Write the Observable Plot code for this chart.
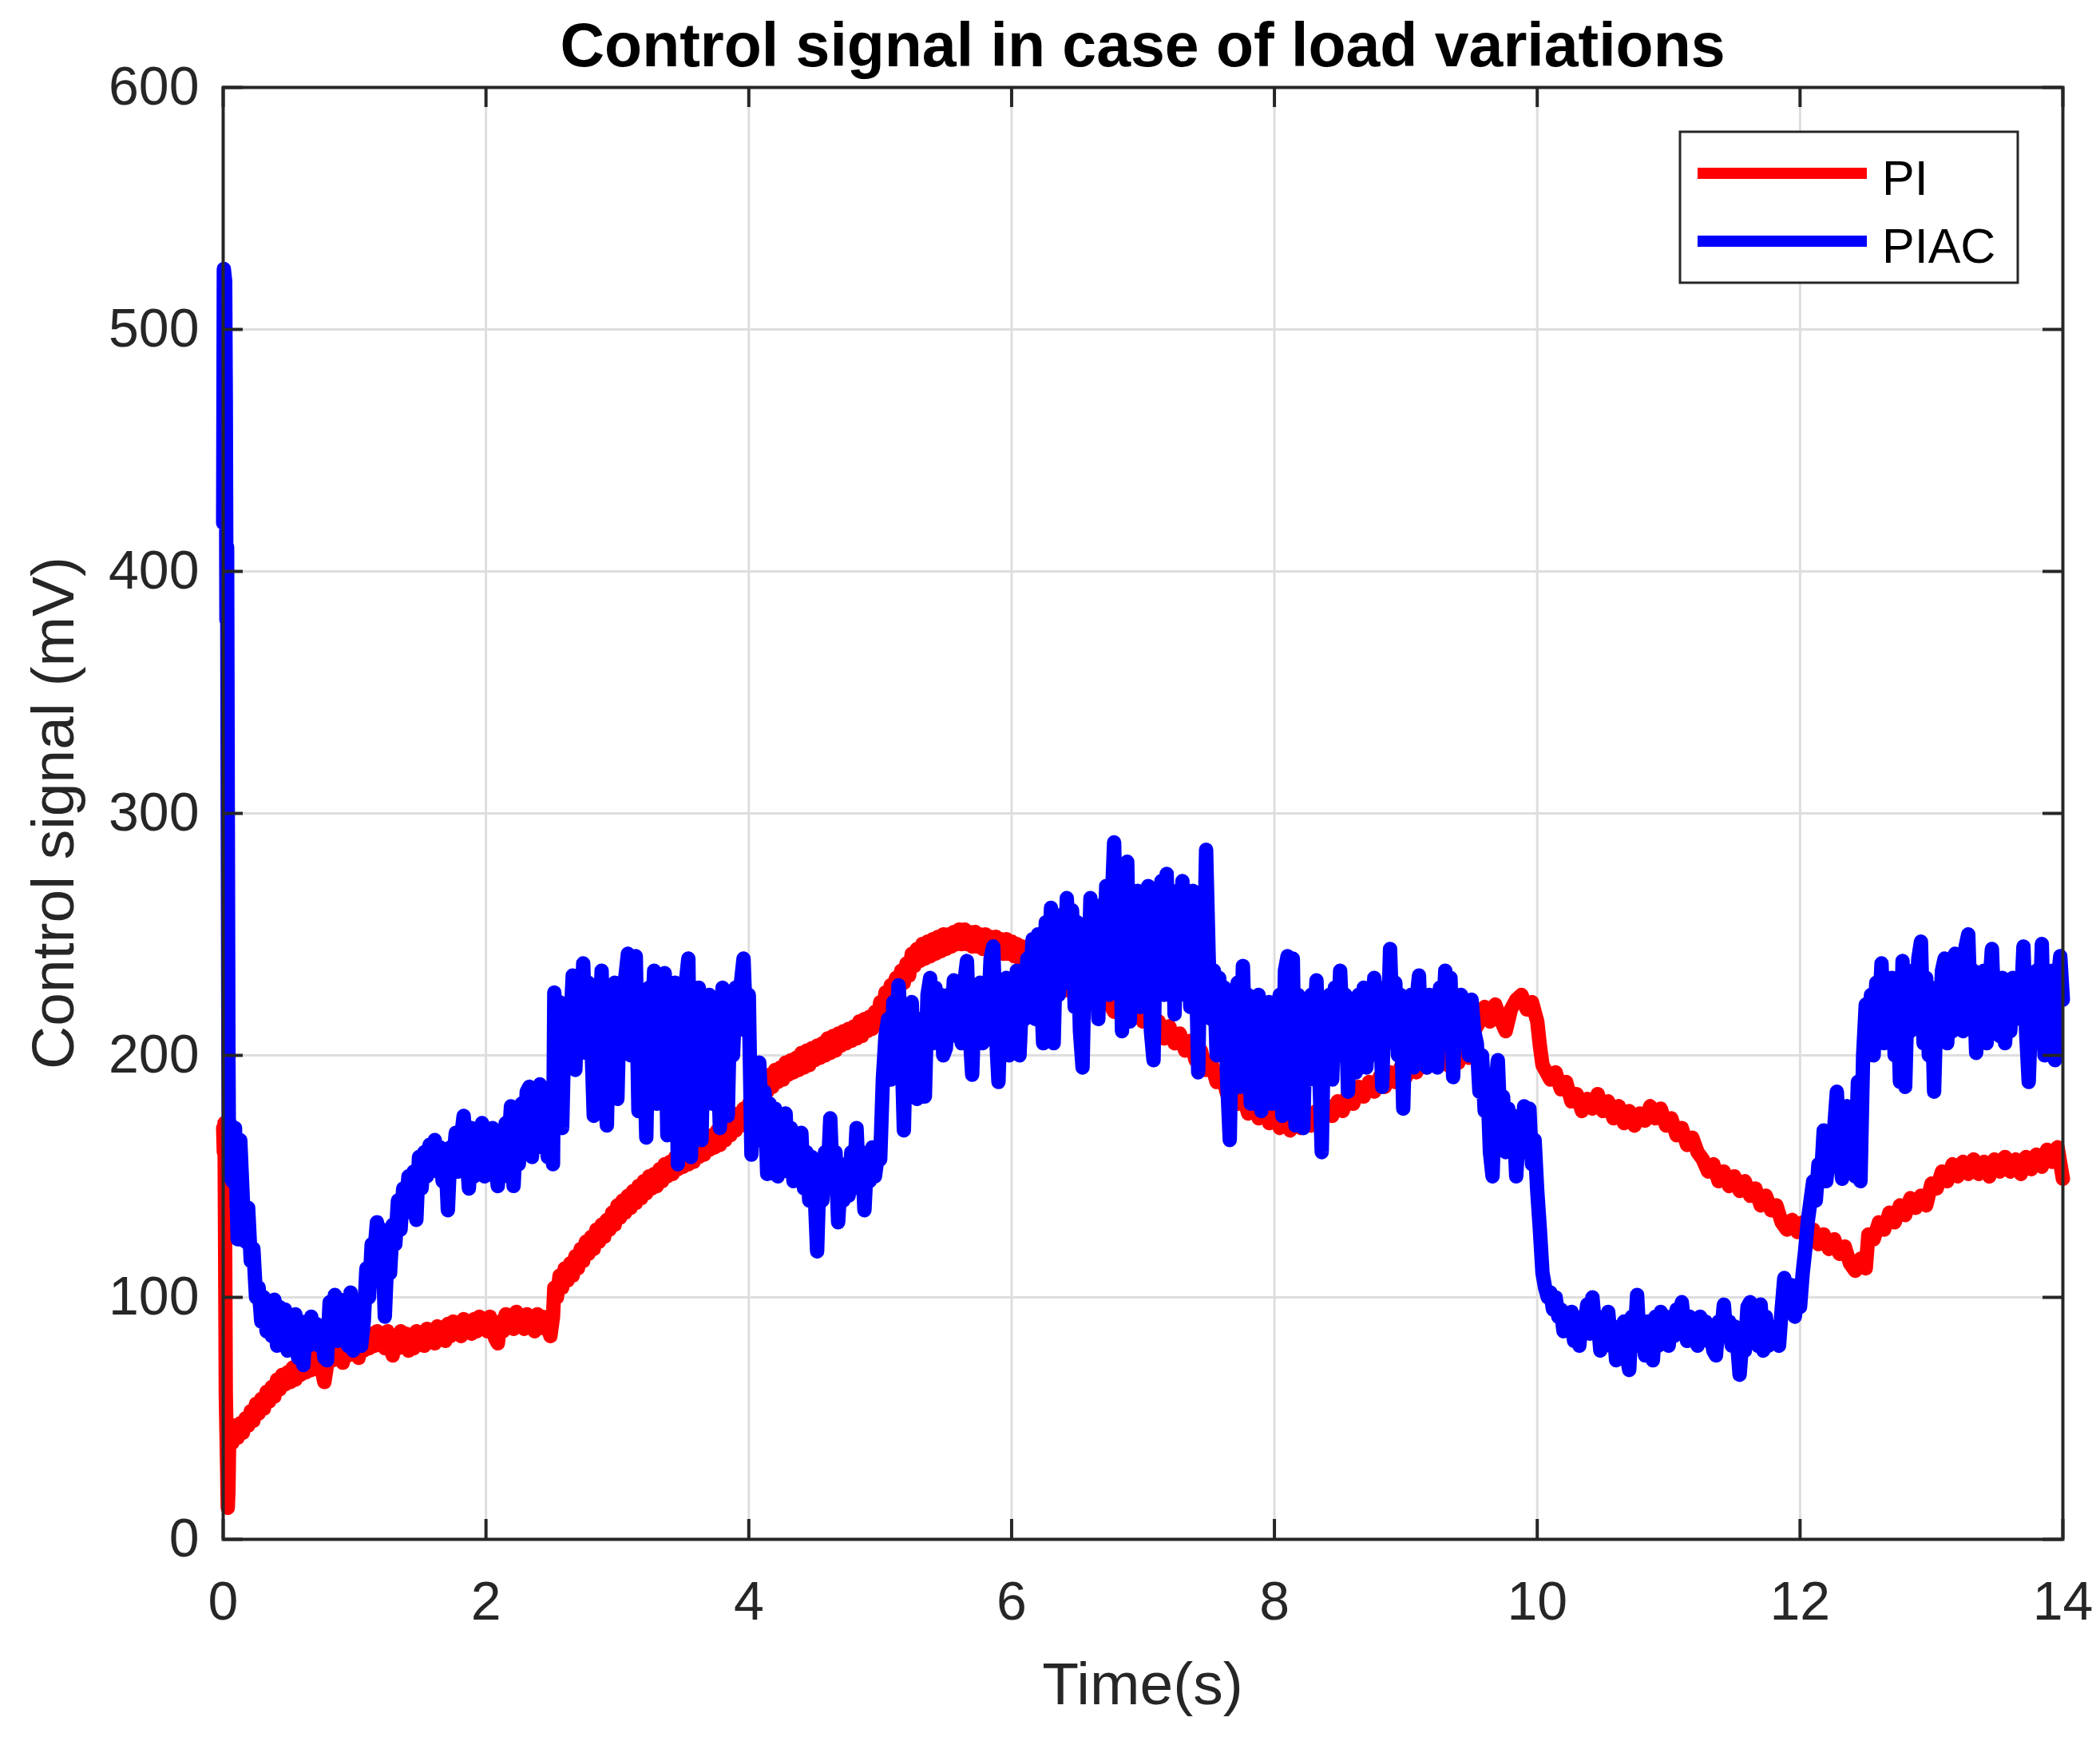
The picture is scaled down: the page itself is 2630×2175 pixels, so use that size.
<!DOCTYPE html>
<html><head><meta charset="utf-8">
<script src="https://cdn.jsdelivr.net/npm/d3@7"></script>
<script src="https://cdn.jsdelivr.net/npm/@observablehq/plot@0.6"></script>
<style>body{margin:0;background:#fff;} #chart{position:relative;width:2630px;height:2175px;}</style>
</head><body><div id="chart"></div>
<script>
const titleText = "Control signal in case of load variations";
const xLabel = "Time(s)";
const yLabel = "Control signal (mV)";
const seriesNames = ["PI", "PIAC"];
const seriesColors = ["#ff0000", "#0000ff"];
const xTicks = [0, 2, 4, 6, 8, 10, 12, 14];
const yTicks = [0, 100, 200, 300, 400, 500, 600];

// PI controller signal [time s, mV]
const piData = [
[0.00,170],[0.005,160],[0.01,172],[0.015,120],[0.02,60],[0.03,30],[0.035,13],[0.04,20],[0.045,40],[0.05,45],
[0.07,40],[0.09,47],[0.11,42],[0.13,48],[0.15,44],[0.17,50],[0.19,47],[0.21,53],[0.23,49],[0.25,56],
[0.27,52],[0.29,58],[0.31,54],[0.33,61],[0.35,57],[0.37,63],[0.39,59],[0.41,66],[0.43,62],[0.45,68],
[0.47,64],[0.49,69],[0.51,65],[0.53,71],[0.55,66],[0.57,72],[0.59,68],[0.61,73],[0.63,69],[0.65,75],
[0.67,70],[0.69,76],[0.71,72],[0.73,77],[0.75,70],[0.77,65],[0.79,72],[0.81,78],[0.83,74],[0.85,80],
[0.87,75],[0.89,81],[0.91,73],[0.93,79],[0.95,76],[0.97,82],[0.99,77],[1.01,80],[1.03,75],[1.05,82],
[1.07,78],[1.09,84],[1.11,79],[1.13,85],[1.15,80],[1.17,86],[1.19,81],[1.21,85],[1.23,79],[1.25,86],
[1.27,80],[1.29,76],[1.31,84],[1.33,79],[1.35,86],[1.37,81],[1.39,85],[1.41,78],[1.43,84],[1.45,79],
[1.47,86],[1.49,81],[1.51,85],[1.53,80],[1.55,87],[1.57,82],[1.59,86],[1.61,81],[1.63,88],[1.65,83],
[1.67,87],[1.69,82],[1.71,89],[1.73,84],[1.75,90],[1.77,85],[1.79,89],[1.81,84],[1.83,91],[1.85,86],
[1.87,90],[1.89,85],[1.91,91],[1.93,86],[1.95,92],[1.97,87],[1.99,91],[2.01,86],[2.03,92],[2.05,87],
[2.07,83],[2.09,81],[2.11,90],[2.13,86],[2.15,93],[2.17,88],[2.19,92],[2.21,87],[2.23,94],[2.25,88],
[2.27,92],[2.29,87],[2.31,93],[2.33,88],[2.35,91],[2.37,86],[2.39,93],[2.41,88],[2.43,92],[2.45,87],
[2.47,89],[2.49,84],[2.51,92],[2.52,104],[2.54,100],[2.56,109],[2.58,104],[2.60,112],[2.62,107],[2.64,114],
[2.66,109],[2.68,117],[2.70,112],[2.72,120],[2.74,115],[2.76,123],[2.78,118],[2.80,125],[2.82,120],[2.84,128],
[2.86,123],[2.88,130],[2.90,125],[2.92,132],[2.94,128],[2.96,135],[2.98,130],[3.00,138],[3.02,133],[3.04,140],
[3.06,135],[3.08,142],[3.10,137],[3.12,144],[3.14,139],[3.16,146],[3.18,141],[3.20,148],[3.22,143],[3.24,150],
[3.26,145],[3.28,151],[3.30,146],[3.32,153],[3.34,148],[3.36,155],[3.38,150],[3.40,156],[3.42,151],[3.44,158],
[3.46,153],[3.48,159],[3.50,154],[3.52,160],[3.54,155],[3.56,161],[3.58,156],[3.60,163],[3.62,158],[3.64,164],
[3.66,159],[3.68,166],[3.70,161],[3.72,167],[3.74,162],[3.76,169],[3.78,163],[3.80,170],[3.82,165],[3.84,172],
[3.86,167],[3.88,174],[3.90,169],[3.92,176],[3.94,171],[3.96,178],[3.98,173],[4.00,180],[4.02,176],[4.04,184],
[4.06,180],[4.08,188],[4.10,183],[4.12,190],[4.14,185],[4.16,192],[4.18,187],[4.20,194],[4.22,189],[4.24,195],
[4.26,190],[4.28,197],[4.30,192],[4.32,198],[4.34,193],[4.36,199],[4.38,194],[4.40,201],[4.42,195],[4.44,202],
[4.46,196],[4.48,203],[4.50,198],[4.52,204],[4.54,199],[4.56,205],[4.58,200],[4.60,207],[4.62,201],[4.64,208],
[4.66,202],[4.68,209],[4.70,204],[4.72,210],[4.74,205],[4.76,211],[4.78,206],[4.80,212],[4.82,207],[4.84,214],
[4.86,208],[4.88,215],[4.90,210],[4.92,216],[4.94,211],[4.96,218],[4.98,213],[5.00,222],[5.02,218],[5.04,226],
[5.06,221],[5.08,229],[5.10,224],[5.12,232],[5.14,227],[5.16,235],[5.18,230],[5.20,238],[5.22,233],[5.24,242],
[5.26,237],[5.28,244],[5.30,239],[5.32,246],[5.34,240],[5.36,247],[5.38,241],[5.40,248],[5.42,242],[5.44,249],
[5.46,243],[5.48,250],[5.50,244],[5.52,250],[5.54,245],[5.56,251],[5.58,246],[5.60,252],[5.62,246],[5.64,252],
[5.66,246],[5.68,251],[5.70,245],[5.72,251],[5.74,245],[5.76,250],[5.78,244],[5.80,250],[5.82,244],[5.84,249],
[5.86,243],[5.88,249],[5.90,243],[5.92,248],[5.94,242],[5.96,248],[5.98,242],[6.00,247],[6.02,241],[6.04,246],
[6.06,240],[6.08,245],[6.10,239],[6.12,244],[6.14,237],[6.16,242],[6.18,235],[6.20,240],[6.22,233],[6.24,237],
[6.30,231],[6.36,234],[6.42,227],[6.48,230],[6.54,224],[6.60,227],[6.66,221],[6.72,224],[6.78,218],[6.84,221],
[6.90,215],[6.96,219],[7.00,214],[7.04,218],[7.08,209],[7.12,214],[7.16,207],[7.20,212],[7.24,205],[7.28,209],
[7.32,202],[7.36,206],[7.40,198],[7.44,202],[7.48,194],[7.52,197],[7.56,189],[7.60,192],[7.64,184],[7.68,188],
[7.72,180],[7.76,184],[7.80,176],[7.84,181],[7.88,174],[7.92,179],[7.96,172],[8.00,177],[8.04,170],[8.08,175],
[8.12,169],[8.16,174],[8.20,170],[8.24,176],[8.28,171],[8.32,177],[8.36,173],[8.40,179],[8.44,175],[8.48,181],
[8.52,177],[8.56,184],[8.60,180],[8.64,187],[8.68,183],[8.72,189],[8.76,185],[8.80,191],[8.84,187],[8.88,193],
[8.92,189],[8.96,195],[9.00,191],[9.04,197],[9.08,193],[9.12,199],[9.16,195],[9.20,203],[9.24,197],[9.28,202],
[9.32,196],[9.36,201],[9.40,197],[9.44,203],[9.48,199],[9.52,210],[9.56,214],[9.60,220],[9.64,214],[9.68,221],
[9.72,215],[9.76,210],[9.80,219],[9.84,223],[9.88,225],[9.92,219],[9.96,222],[10.00,214],[10.02,204],[10.04,196],
[10.06,194],[10.10,190],[10.14,193],[10.18,186],[10.22,189],[10.26,181],[10.30,184],[10.34,177],[10.38,182],[10.42,178],
[10.46,184],[10.50,177],[10.54,181],[10.58,174],[10.62,179],[10.66,172],[10.70,177],[10.74,171],[10.78,176],[10.82,173],
[10.86,179],[10.90,174],[10.94,178],[10.98,171],[11.02,174],[11.06,167],[11.10,170],[11.14,163],[11.18,166],[11.22,160],
[11.26,157],[11.30,152],[11.34,155],[11.38,148],[11.42,152],[11.46,146],[11.50,150],[11.54,144],[11.58,148],[11.62,142],
[11.66,145],[11.70,138],[11.74,142],[11.78,136],[11.82,138],[11.86,131],[11.90,128],[11.94,132],[11.98,127],[12.02,131],
[12.06,125],[12.10,128],[12.14,122],[12.18,126],[12.22,120],[12.26,124],[12.30,118],[12.34,121],[12.38,114],[12.42,111],
[12.46,116],[12.50,112],[12.52,126],[12.56,124],[12.60,131],[12.64,128],[12.68,135],[12.72,131],[12.76,138],[12.80,134],
[12.84,141],[12.88,137],[12.92,142],[12.96,138],[13.00,147],[13.04,145],[13.08,152],[13.12,148],[13.16,155],[13.20,150],
[13.24,156],[13.28,151],[13.32,157],[13.36,151],[13.40,156],[13.44,150],[13.48,157],[13.52,152],[13.56,158],[13.60,152],
[13.64,157],[13.68,151],[13.72,158],[13.76,153],[13.80,159],[13.84,154],[13.88,161],[13.92,156],[13.96,162],[14.00,149]
];

// PIAC controller signal [time s, mV]
const piacData = [
[0.00,420],[0.005,525],[0.015,520],[0.02,470],[0.025,380],[0.03,410],[0.035,300],[0.04,200],[0.045,150],[0.05,172],
[0.07,148],[0.09,170],[0.11,124],[0.13,165],[0.15,140],[0.17,123],[0.19,137],[0.21,115],[0.23,120],[0.25,100],
[0.27,104],[0.29,90],[0.31,100],[0.33,86],[0.35,98],[0.37,84],[0.39,99],[0.41,80],[0.43,96],[0.45,82],
[0.47,95],[0.49,78],[0.51,92],[0.53,80],[0.55,93],[0.57,75],[0.59,88],[0.61,72],[0.63,90],[0.65,80],
[0.67,92],[0.69,82],[0.71,89],[0.73,80],[0.75,88],[0.77,75],[0.79,74],[0.81,98],[0.83,84],[0.85,101],
[0.87,82],[0.89,99],[0.91,85],[0.93,96],[0.95,80],[0.97,102],[0.99,78],[1.01,95],[1.03,85],[1.05,80],
[1.07,90],[1.09,112],[1.11,100],[1.13,122],[1.15,118],[1.17,131],[1.19,125],[1.21,128],[1.23,92],[1.25,118],
[1.27,110],[1.29,130],[1.31,122],[1.33,140],[1.35,128],[1.37,145],[1.39,135],[1.41,150],[1.43,140],[1.45,152],
[1.47,132],[1.49,158],[1.51,145],[1.53,160],[1.55,150],[1.57,163],[1.59,155],[1.61,165],[1.63,152],[1.65,162],
[1.67,148],[1.69,160],[1.71,136],[1.73,162],[1.75,155],[1.77,168],[1.79,152],[1.81,166],[1.83,175],[1.85,160],
[1.87,145],[1.89,170],[1.91,150],[1.93,168],[1.95,155],[1.97,172],[1.99,150],[2.01,165],[2.03,152],[2.05,170],
[2.07,155],[2.09,146],[2.11,168],[2.13,150],[2.15,172],[2.17,160],[2.19,179],[2.21,146],[2.23,170],[2.25,155],
[2.27,180],[2.29,160],[2.31,185],[2.33,187],[2.35,158],[2.37,182],[2.39,165],[2.41,188],[2.43,162],[2.45,175],
[2.47,158],[2.49,178],[2.51,155],[2.52,226],[2.54,190],[2.56,222],[2.58,170],[2.60,220],[2.62,195],[2.64,210],
[2.66,233],[2.68,194],[2.70,225],[2.72,205],[2.74,238],[2.76,201],[2.78,230],[2.80,210],[2.82,175],[2.84,228],
[2.86,205],[2.88,235],[2.90,190],[2.92,171],[2.94,225],[2.96,200],[2.98,230],[3.00,182],[3.02,227],[3.04,205],
[3.06,232],[3.08,242],[3.10,200],[3.12,230],[3.14,241],[3.16,177],[3.18,225],[3.20,205],[3.22,166],[3.24,228],
[3.26,210],[3.28,235],[3.30,180],[3.32,220],[3.34,200],[3.36,234],[3.38,167],[3.40,225],[3.42,195],[3.44,230],
[3.46,155],[3.48,218],[3.50,200],[3.52,230],[3.54,240],[3.56,158],[3.58,225],[3.60,205],[3.62,228],[3.64,165],
[3.66,220],[3.68,200],[3.70,225],[3.72,180],[3.74,222],[3.76,205],[3.78,170],[3.80,228],[3.82,210],[3.84,175],
[3.86,225],[3.88,200],[3.90,228],[3.92,215],[3.94,230],[3.96,240],[3.98,210],[4.00,225],[4.02,159],[4.04,190],
[4.06,165],[4.08,197],[4.10,170],[4.12,185],[4.14,151],[4.16,180],[4.18,160],[4.20,178],[4.22,150],[4.24,172],
[4.26,158],[4.28,176],[4.30,152],[4.32,170],[4.34,148],[4.36,165],[4.38,150],[4.40,168],[4.42,145],[4.44,160],
[4.46,140],[4.48,158],[4.50,145],[4.52,119],[4.54,155],[4.56,140],[4.58,160],[4.60,150],[4.62,174],[4.64,145],
[4.66,160],[4.68,131],[4.70,150],[4.72,140],[4.74,155],[4.76,142],[4.78,160],[4.80,148],[4.82,170],[4.84,145],
[4.86,160],[4.88,136],[4.90,158],[4.92,148],[4.94,162],[4.96,150],[4.98,158],[5.00,157],[5.02,190],[5.04,208],
[5.06,215],[5.08,190],[5.10,222],[5.12,200],[5.14,229],[5.16,210],[5.18,169],[5.20,215],[5.22,200],[5.24,222],
[5.26,195],[5.28,182],[5.30,215],[5.32,200],[5.34,183],[5.36,225],[5.38,232],[5.40,205],[5.42,228],[5.44,210],
[5.46,225],[5.48,200],[5.50,203],[5.52,225],[5.54,208],[5.56,231],[5.58,215],[5.60,220],[5.62,205],[5.64,230],
[5.66,239],[5.68,210],[5.70,192],[5.72,225],[5.74,210],[5.76,230],[5.78,205],[5.80,222],[5.82,215],[5.84,240],
[5.86,245],[5.88,210],[5.90,189],[5.92,225],[5.94,210],[5.96,232],[5.98,200],[6.00,222],[6.02,210],[6.04,235],
[6.06,200],[6.08,225],[6.10,215],[6.12,240],[6.14,230],[6.16,248],[6.18,215],[6.20,250],[6.22,230],[6.24,205],
[6.26,255],[6.28,235],[6.30,261],[6.32,205],[6.34,250],[6.36,225],[6.38,258],[6.40,230],[6.42,265],[6.44,240],
[6.46,260],[6.48,220],[6.50,255],[6.52,210],[6.54,195],[6.56,250],[6.58,225],[6.60,265],[6.62,230],[6.64,260],
[6.66,215],[6.68,262],[6.70,235],[6.72,270],[6.74,225],[6.76,260],[6.78,288],[6.80,240],[6.82,270],[6.84,210],
[6.86,265],[6.88,280],[6.90,214],[6.92,262],[6.94,230],[6.96,268],[6.98,220],[7.00,258],[7.02,240],[7.04,270],
[7.06,210],[7.08,198],[7.10,265],[7.12,230],[7.14,272],[7.16,225],[7.18,275],[7.20,235],[7.22,268],[7.24,217],
[7.26,262],[7.28,240],[7.30,272],[7.32,225],[7.34,262],[7.36,220],[7.38,268],[7.40,245],[7.42,193],[7.44,260],
[7.46,230],[7.48,285],[7.50,240],[7.52,215],[7.54,235],[7.56,200],[7.58,232],[7.60,210],[7.62,228],[7.64,190],
[7.66,165],[7.68,225],[7.70,200],[7.72,230],[7.74,187],[7.76,237],[7.78,200],[7.80,225],[7.82,180],[7.84,222],
[7.86,190],[7.88,225],[7.90,177],[7.92,218],[7.94,190],[7.96,222],[7.98,180],[8.00,215],[8.02,195],[8.04,225],
[8.06,175],[8.08,235],[8.10,241],[8.12,200],[8.14,240],[8.16,171],[8.18,225],[8.20,195],[8.22,170],[8.24,220],
[8.26,190],[8.28,225],[8.30,205],[8.32,231],[8.34,195],[8.36,160],[8.38,220],[8.40,200],[8.42,225],[8.44,190],
[8.46,228],[8.48,200],[8.50,235],[8.52,210],[8.54,225],[8.56,185],[8.58,222],[8.60,205],[8.62,193],[8.64,225],
[8.66,200],[8.68,228],[8.70,195],[8.72,220],[8.74,210],[8.76,232],[8.78,200],[8.80,225],[8.82,187],[8.84,228],
[8.86,205],[8.88,244],[8.90,210],[8.92,230],[8.94,200],[8.96,225],[8.98,178],[9.00,220],[9.02,200],[9.04,225],
[9.06,195],[9.08,222],[9.10,233],[9.12,200],[9.14,220],[9.16,195],[9.18,225],[9.20,205],[9.22,220],[9.24,195],
[9.26,228],[9.28,210],[9.30,235],[9.32,215],[9.34,232],[9.36,191],[9.38,222],[9.40,205],[9.42,225],[9.44,215],
[9.46,222],[9.48,200],[9.50,223],[9.52,210],[9.54,205],[9.56,185],[9.58,200],[9.60,177],[9.62,190],[9.64,160],
[9.66,150],[9.68,185],[9.70,198],[9.72,170],[9.74,183],[9.76,160],[9.78,178],[9.80,165],[9.82,175],[9.84,150],
[9.86,170],[9.88,160],[9.90,179],[9.92,165],[9.94,178],[9.96,155],[9.98,165],[10.00,144],[10.02,128],[10.04,110],
[10.06,104],[10.08,100],[10.10,102],[10.12,95],[10.14,100],[10.16,92],[10.18,95],[10.20,86],[10.22,92],[10.24,88],
[10.26,94],[10.28,82],[10.30,90],[10.32,80],[10.34,92],[10.36,88],[10.38,97],[10.40,85],[10.42,100],[10.44,88],
[10.46,92],[10.48,78],[10.50,90],[10.52,80],[10.54,94],[10.56,82],[10.58,88],[10.60,74],[10.62,86],[10.64,78],
[10.66,90],[10.68,76],[10.70,70],[10.72,92],[10.74,82],[10.76,101],[10.78,80],[10.80,88],[10.82,76],[10.84,90],
[10.86,82],[10.88,74],[10.90,92],[10.92,80],[10.94,94],[10.96,85],[10.98,92],[11.00,80],[11.02,90],[11.04,84],
[11.06,95],[11.08,86],[11.10,98],[11.12,88],[11.14,82],[11.16,92],[11.18,84],[11.20,90],[11.22,80],[11.24,92],
[11.26,84],[11.28,90],[11.30,82],[11.32,86],[11.34,78],[11.36,76],[11.38,90],[11.40,85],[11.42,97],[11.44,84],
[11.46,90],[11.48,80],[11.50,88],[11.52,82],[11.54,68],[11.56,82],[11.58,78],[11.60,96],[11.62,98],[11.64,85],
[11.66,95],[11.68,80],[11.70,97],[11.72,78],[11.74,92],[11.76,80],[11.78,88],[11.80,82],[11.82,86],[11.84,80],
[11.86,95],[11.88,108],[11.90,100],[11.92,96],[11.94,105],[11.96,92],[11.98,100],[12.00,96],[12.02,110],[12.04,120],
[12.06,132],[12.08,140],[12.10,148],[12.12,140],[12.14,155],[12.16,150],[12.18,169],[12.20,148],[12.22,160],[12.24,155],
[12.26,170],[12.28,185],[12.30,160],[12.32,149],[12.34,170],[12.36,179],[12.38,160],[12.40,175],[12.42,150],[12.44,189],
[12.46,148],[12.48,200],[12.50,221],[12.52,210],[12.54,225],[12.56,200],[12.58,230],[12.60,215],[12.62,238],[12.64,205],
[12.66,225],[12.68,210],[12.70,232],[12.72,200],[12.74,228],[12.76,189],[12.78,239],[12.80,187],[12.82,228],[12.84,210],
[12.86,235],[12.88,215],[12.90,240],[12.92,247],[12.94,205],[12.96,232],[12.98,200],[13.00,228],[13.02,185],[13.04,225],
[13.06,210],[13.08,235],[13.10,240],[13.12,205],[13.14,228],[13.16,210],[13.18,242],[13.20,215],[13.22,235],[13.24,210],
[13.26,245],[13.28,250],[13.30,215],[13.32,235],[13.34,201],[13.36,230],[13.38,210],[13.40,235],[13.42,205],[13.44,228],
[13.46,244],[13.48,215],[13.50,230],[13.52,208],[13.54,232],[13.56,205],[13.58,225],[13.60,210],[13.62,232],[13.64,215],
[13.66,228],[13.68,220],[13.70,245],[13.72,210],[13.74,189],[13.76,220],[13.78,205],[13.80,235],[13.82,210],[13.84,246],
[13.86,200],[13.88,225],[13.90,215],[13.92,235],[13.94,198],[13.96,230],[13.98,241],[14.00,223]
];

const rows = [
  ...piData.map(([t, v]) => ({series: seriesNames[0], t, v})),
  ...piacData.map(([t, v]) => ({series: seriesNames[1], t, v}))
];

const W = 2630, H = 2175;
const mL = 279, mR = 47, mT = 109, mB = 248;
const innerW = W - mL - mR, innerH = H - mT - mB;
const tickLen = 25;
const axisColor = "#262626";
const gridColor = "#dedede";
const font = "'Liberation Sans', Arial, Helvetica, sans-serif";

const chart = Plot.plot({
  width: W, height: H,
  marginLeft: mL, marginRight: mR, marginTop: mT, marginBottom: mB,
  style: {fontFamily: font, fontSize: "68px", color: axisColor, background: "#ffffff", overflow: "visible"},
  x: {domain: [0, 14]},
  y: {domain: [0, 600]},
  color: {domain: seriesNames, range: seriesColors},
  marks: [
    Plot.gridX(xTicks, {stroke: gridColor, strokeOpacity: 1, strokeWidth: 3}),
    Plot.gridY(yTicks, {stroke: gridColor, strokeOpacity: 1, strokeWidth: 3}),
    Plot.line(rows, {x: "t", y: "v", z: "series", stroke: "series", strokeWidth: 18, strokeLinejoin: "round", strokeLinecap: "round"}),
    Plot.tickX(xTicks, {x: d => d, insetTop: innerH - tickLen, stroke: axisColor, strokeWidth: 4}),
    Plot.tickX(xTicks, {x: d => d, insetBottom: innerH - tickLen, stroke: axisColor, strokeWidth: 4}),
    Plot.tickY(yTicks, {y: d => d, insetRight: innerW - tickLen, stroke: axisColor, strokeWidth: 4}),
    Plot.tickY(yTicks, {y: d => d, insetLeft: innerW - tickLen, stroke: axisColor, strokeWidth: 4}),
    Plot.frame({stroke: axisColor, strokeWidth: 4}),
    Plot.axisX(xTicks, {tickSize: 0, tickPadding: 52, fontSize: 68, label: null, fill: axisColor, tickFormat: d => `${d}`}),
    Plot.axisY(yTicks, {tickSize: 0, tickPadding: 30, fontSize: 68, label: null, fill: axisColor, tickFormat: d => `${d}`})
  ]
});

document.getElementById("chart").appendChild(chart);
const svg = d3.select(chart);

// Title
svg.append("text")
  .attr("x", mL + innerW / 2).attr("y", 83)
  .attr("text-anchor", "middle")
  .style("font-family", font).style("font-size", "77px").style("font-weight", "bold")
  .attr("fill", "#000").text(titleText);

// X label
svg.append("text")
  .attr("x", mL + innerW / 2).attr("y", 2134)
  .attr("text-anchor", "middle")
  .style("font-family", font).style("font-size", "75px")
  .attr("fill", axisColor).text(xLabel);

// Y label
svg.append("text")
  .attr("transform", `translate(92,${mT + innerH / 2}) rotate(-90)`)
  .attr("text-anchor", "middle")
  .style("font-family", font).style("font-size", "75px")
  .attr("fill", axisColor).text(yLabel);

// Legend
const lg = svg.append("g");
lg.append("rect").attr("x", 2104).attr("y", 165).attr("width", 423).attr("height", 189)
  .attr("fill", "#fff").attr("stroke", axisColor).attr("stroke-width", 3);
seriesNames.forEach((name, i) => {
  const cy = 217 + i * 85;
  lg.append("line").attr("x1", 2126).attr("x2", 2338).attr("y1", cy).attr("y2", cy)
    .attr("stroke", seriesColors[i]).attr("stroke-width", 14);
  lg.append("text").attr("x", 2357).attr("y", cy + 27)
    .attr("text-anchor", "start")
    .style("font-family", font).style("font-size", "61px")
    .attr("fill", "#000").text(name);
});
</script>
</body></html>
